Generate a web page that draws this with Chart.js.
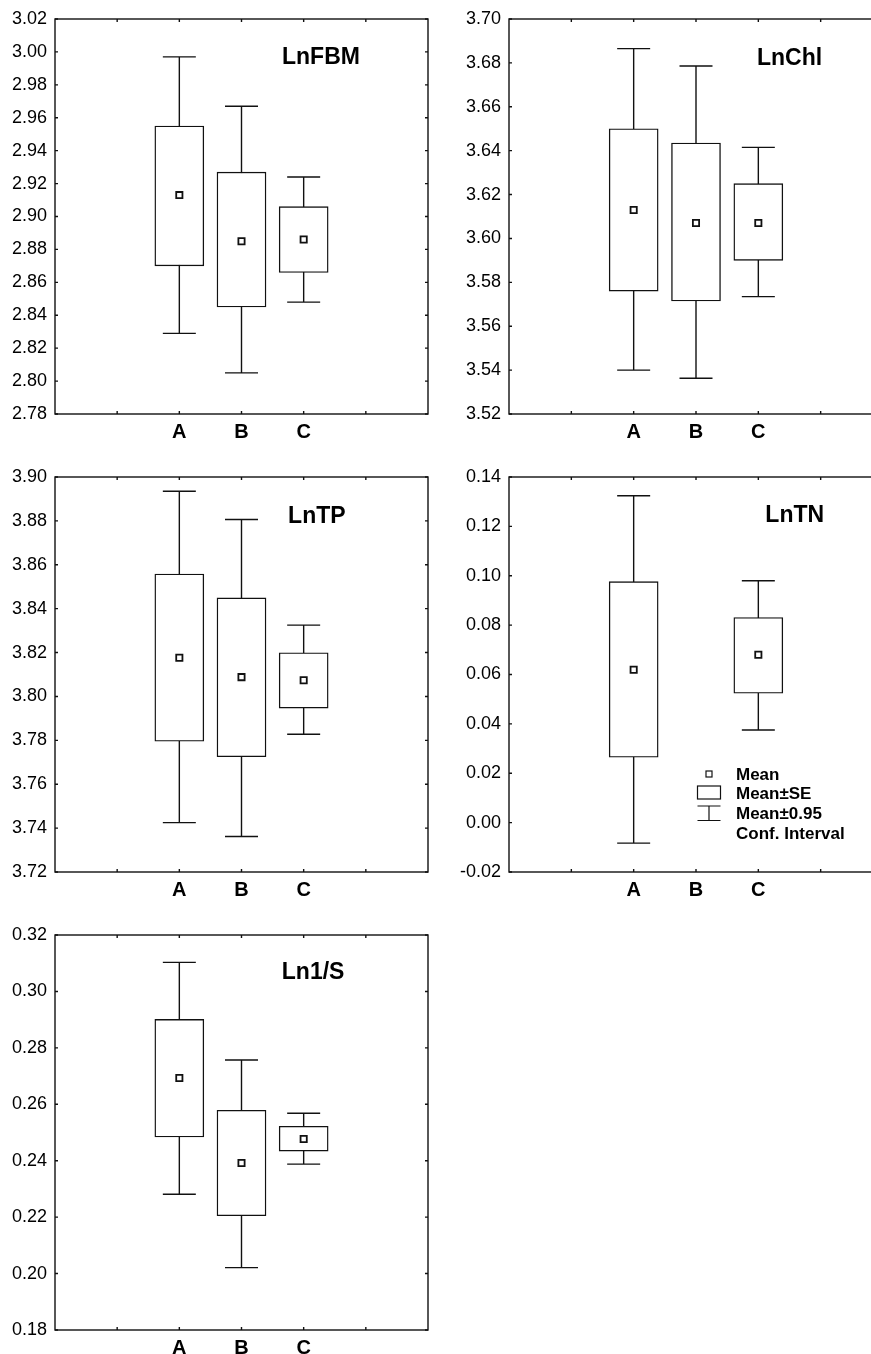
<!DOCTYPE html>
<html>
<head>
<meta charset="utf-8">
<script src="https://cdn.jsdelivr.net/npm/chart.js@4.4.1/dist/chart.umd.min.js"></script>
<style>
  html, body { margin: 0; padding: 0; background: #fff; overflow: hidden; }
  body { width: 871px; height: 1354px; position: relative; }
  canvas { position: absolute; }
</style>
</head>
<body>
<canvas id="c1" width="440" height="445" style="left:0;top:0"></canvas>
<canvas id="c2" width="460" height="445" style="left:440px;top:0"></canvas>
<canvas id="c3" width="440" height="445" style="left:0;top:458px"></canvas>
<canvas id="c4" width="460" height="445" style="left:440px;top:458px"></canvas>
<canvas id="c5" width="440" height="445" style="left:0;top:916px"></canvas>
<script>
// Categorias e posição de cada uma no eixo x (0..6)
const categories = ['A', 'B', 'C'];
const catPos = [2, 3, 4];

// Valores: média, média±SE, média±IC 95%
const fbmMean = [2.913, 2.885, 2.886];
const fbmSE = [[2.870, 2.955], [2.845, 2.927], [2.866, 2.906]];
const fbmCI = [[2.829, 2.997], [2.805, 2.967], [2.848, 2.924]];
const fbmY = [2.78, 3.02];

const chlMean = [3.613, 3.607, 3.607];
const chlSE = [[3.576, 3.650], [3.5715, 3.6435], [3.590, 3.625]];
const chlCI = [[3.540, 3.6865], [3.5363, 3.6786], [3.5735, 3.6415]];
const chlY = [3.52, 3.70];

const tpMean = [3.8176, 3.8088, 3.8074];
const tpSE = [[3.7796, 3.8558], [3.7725, 3.8449], [3.7947, 3.8199]];
const tpCI = [[3.7425, 3.8935], [3.7362, 3.8806], [3.7828, 3.8325]];
const tpY = [3.72, 3.90];

const tnMean = [0.0619, null, 0.0680];   // B não tem valor
const tnSE = [[0.0265, 0.0976], null, [0.0524, 0.0831]];
const tnCI = [[-0.0083, 0.1324], null, [0.0375, 0.0980]];
const tnY = [-0.02, 0.14];

const invSMean = [0.2693, 0.2392, 0.2477];
const invSSE = [[0.2484, 0.2901], [0.2205, 0.2579], [0.2434, 0.2522]];
const invSCI = [[0.2281, 0.3103], [0.2021, 0.2757], [0.2388, 0.2568]];
const invSY = [0.18, 0.32];

const yStep = 0.02;

const legendLabels = ['Mean', 'Mean\u00b1SE', 'Mean\u00b10.95', 'Conf. Interval'];

const ink = '#111';
const FONT = '"Liberation Sans", Arial, sans-serif';
const LW = 1.4;
const capHalf = 16.5;   // meia largura do "T" do intervalo (px)

const panels = [
  { id: 'c1', title: 'LnFBM', mean: fbmMean, se: fbmSE, ci: fbmCI, y: fbmY, axisW: 55, padR: 12, tx: 0.713, ty: 0.098 },
  { id: 'c2', title: 'LnChl', mean: chlMean, se: chlSE, ci: chlCI, y: chlY, axisW: 69, padR: 17, tx: 0.750, ty: 0.100 },
  { id: 'c3', title: 'LnTP', mean: tpMean, se: tpSE, ci: tpCI, y: tpY, axisW: 55, padR: 12, tx: 0.702, ty: 0.101 },
  { id: 'c4', title: 'LnTN', mean: tnMean, se: tnSE, ci: tnCI, y: tnY, axisW: 69, padR: 17, tx: 0.764, ty: 0.097, legend: true },
  { id: 'c5', title: 'Ln1/S', mean: invSMean, se: invSSE, ci: invSCI, y: invSY, axisW: 55, padR: 12, tx: 0.692, ty: 0.096 }
];

// Plugin: whiskers antes das barras; moldura, ticks internos, título e legenda depois
function boxPlotPlugin(p) {
  return {
    id: 'boxPlot',
    beforeDatasetsDraw(chart) {
      const { ctx } = chart;
      const xs = chart.scales.x, ys = chart.scales.y;
      ctx.save();
      ctx.strokeStyle = ink;
      ctx.lineWidth = LW;
      p.ci.forEach((r, i) => {
        if (!r) return;
        const px = xs.getPixelForValue(catPos[i]);
        const top = ys.getPixelForValue(r[1]);
        const bot = ys.getPixelForValue(r[0]);
        ctx.beginPath();
        ctx.moveTo(px, top); ctx.lineTo(px, bot);
        ctx.moveTo(px - capHalf, top); ctx.lineTo(px + capHalf, top);
        ctx.moveTo(px - capHalf, bot); ctx.lineTo(px + capHalf, bot);
        ctx.stroke();
      });
      ctx.restore();
    },
    afterDraw(chart) {
      const { ctx, chartArea: a } = chart;
      const xs = chart.scales.x, ys = chart.scales.y;
      ctx.save();
      ctx.strokeStyle = ink;
      ctx.lineWidth = LW;
      ctx.strokeRect(a.left, a.top, a.right - a.left, a.bottom - a.top);
      // ticks para dentro
      ctx.beginPath();
      ys.ticks.forEach(t => {
        const py = ys.getPixelForValue(t.value);
        ctx.moveTo(a.left, py); ctx.lineTo(a.left + 3, py);
        ctx.moveTo(a.right, py); ctx.lineTo(a.right - 3, py);
      });
      xs.ticks.forEach(t => {
        if (t.value <= xs.min || t.value >= xs.max) return;
        const px = xs.getPixelForValue(t.value);
        ctx.moveTo(px, a.top); ctx.lineTo(px, a.top + 3);
        ctx.moveTo(px, a.bottom); ctx.lineTo(px, a.bottom - 3);
      });
      ctx.stroke();

      // título
      ctx.fillStyle = '#000';
      ctx.font = 'bold 23px ' + FONT;
      ctx.textAlign = 'center';
      ctx.textBaseline = 'middle';
      ctx.fillText(p.title, a.left + p.tx * (a.right - a.left), a.top + p.ty * (a.bottom - a.top));

      if (p.legend) {
        const lx = a.left + 200, ly = a.top + 297;
        ctx.lineWidth = 1.2;
        ctx.fillStyle = '#fff';
        ctx.fillRect(lx - 3, ly - 3, 6, 6);
        ctx.strokeRect(lx - 3, ly - 3, 6, 6);
        ctx.strokeRect(lx - 11.5, ly + 12, 23, 13);
        ctx.beginPath();
        ctx.moveTo(lx - 11.5, ly + 32); ctx.lineTo(lx + 11.5, ly + 32);
        ctx.moveTo(lx, ly + 32); ctx.lineTo(lx, ly + 46.5);
        ctx.moveTo(lx - 11.5, ly + 46.5); ctx.lineTo(lx + 11.5, ly + 46.5);
        ctx.stroke();
        ctx.fillStyle = '#000';
        ctx.font = 'bold 17px ' + FONT;
        ctx.textAlign = 'left';
        legendLabels.forEach((s, i) => ctx.fillText(s, lx + 27, ly + 1 + i * 19.8));
      }
      ctx.restore();
    }
  };
}

function buildChart(p) {
  const boxData = [], meanData = [];
  categories.forEach((c, i) => {
    if (p.se[i]) boxData.push({ x: catPos[i], y: p.se[i] });
    if (p.mean[i] != null) meanData.push({ x: catPos[i], y: p.mean[i] });
  });

  new Chart(document.getElementById(p.id), {
    type: 'bar',
    data: {
      datasets: [
        {
          type: 'scatter',
          label: 'Mean',
          data: meanData,
          pointStyle: 'rect',
          pointRadius: 4.4,
          pointBorderWidth: 1.8,
          pointBackgroundColor: '#fff',
          pointBorderColor: ink,
          order: 0
        },
        {
          label: 'Mean±SE',
          data: boxData,
          backgroundColor: '#fff',
          borderColor: ink,
          borderWidth: LW,
          borderSkipped: false,
          barThickness: 49,
          order: 1
        }
      ]
    },
    options: {
      responsive: false,
      animation: false,
      events: [],
      layout: { padding: { top: 19, right: p.padR, bottom: 0, left: 0 } },
      plugins: { legend: { display: false }, tooltip: { enabled: false } },
      scales: {
        x: {
          type: 'linear',
          min: 0, max: 6,
          offset: false,
          grid: { display: false, drawTicks: false, offset: false },
          border: { display: false },
          ticks: {
            stepSize: 1,
            autoSkip: false,
            maxRotation: 0,
            padding: 6,
            color: '#000',
            font: { family: FONT, size: 20, weight: 'bold' },
            callback: v => {
              const i = catPos.indexOf(v);
              return i >= 0 ? categories[i] : '';
            }
          },
          afterFit: s => { s.height = 31; }
        },
        y: {
          type: 'linear',
          min: p.y[0], max: p.y[1],
          grid: { display: false, drawTicks: false },
          border: { display: false },
          afterBuildTicks: s => {
            const n = Math.round((p.y[1] - p.y[0]) / yStep);
            s.ticks = Array.from({ length: n + 1 }, (_, i) => ({ value: p.y[0] + i * yStep }));
          },
          ticks: {
            padding: 8,
            color: '#000',
            font: { family: FONT, size: 18 },
            callback: v => v.toFixed(2)
          },
          afterFit: s => { s.width = p.axisW; }
        }
      }
    },
    plugins: [boxPlotPlugin(p)]
  });
}

panels.forEach(buildChart);
</script>
</body>
</html>
